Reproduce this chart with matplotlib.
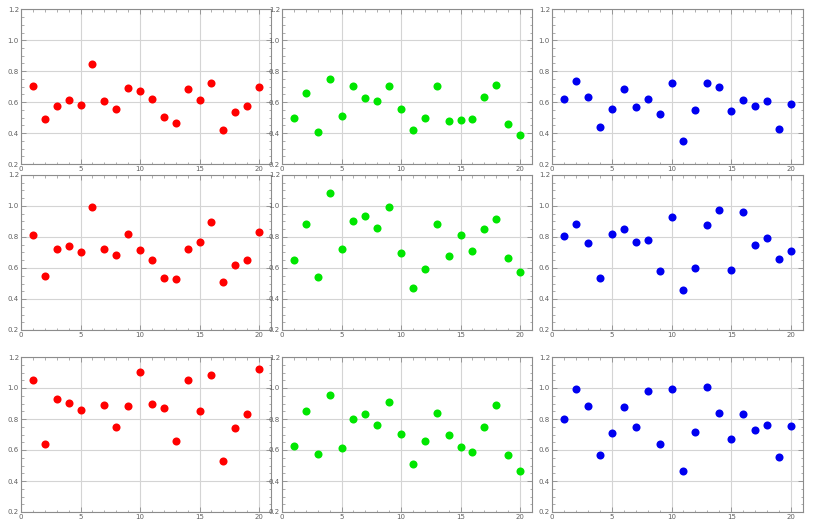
"""
3x3 grid of scatter panels, red / green / blue columns.
"""

import matplotlib.pyplot as plt
from matplotlib.ticker import MultipleLocator, FormatStrFormatter

x = list(range(1, 21))

# rows top to bottom, columns red, green, blue
red_1 = [0.702, 0.491, 0.577, 0.614, 0.581, 0.844, 0.610, 0.553, 0.691, 0.674,
         0.620, 0.506, 0.463, 0.683, 0.616, 0.726, 0.422, 0.536, 0.573, 0.696]
green_1 = [0.497, 0.659, 0.407, 0.750, 0.512, 0.706, 0.625, 0.605, 0.702, 0.553,
           0.422, 0.497, 0.702, 0.480, 0.482, 0.493, 0.635, 0.711, 0.459, 0.390]
blue_1 = [0.620, 0.734, 0.631, 0.439, 0.553, 0.687, 0.569, 0.620, 0.521, 0.722,
          0.351, 0.549, 0.722, 0.696, 0.541, 0.616, 0.573, 0.607, 0.426, 0.588]

red_2 = [0.811, 0.551, 0.725, 0.744, 0.705, 0.991, 0.725, 0.686, 0.819, 0.716,
         0.654, 0.535, 0.531, 0.725, 0.768, 0.897, 0.508, 0.619, 0.654, 0.834]
green_2 = [0.654, 0.886, 0.540, 1.082, 0.725, 0.905, 0.933, 0.858, 0.991, 0.697,
           0.469, 0.594, 0.882, 0.677, 0.811, 0.710, 0.854, 0.914, 0.662, 0.574]
blue_2 = [0.806, 0.882, 0.763, 0.535, 0.819, 0.854, 0.768, 0.778, 0.578, 0.929,
          0.456, 0.598, 0.877, 0.972, 0.587, 0.959, 0.748, 0.796, 0.660, 0.712]

# point 6 of red_3 lies above the plot range and is clipped
red_3 = [1.054, 0.637, 0.931, 0.901, 0.858, 1.250, 0.888, 0.751, 0.884, 1.101,
         0.897, 0.869, 0.660, 1.049, 0.849, 1.082, 0.527, 0.740, 0.834, 1.120]
green_3 = [0.626, 0.854, 0.576, 0.953, 0.611, 0.798, 0.834, 0.763, 0.912, 0.703,
           0.508, 0.656, 0.841, 0.695, 0.622, 0.589, 0.751, 0.892, 0.566, 0.462]
blue_3 = [0.798, 0.992, 0.882, 0.566, 0.708, 0.877, 0.746, 0.978, 0.637, 0.992,
          0.462, 0.716, 1.006, 0.841, 0.669, 0.834, 0.727, 0.759, 0.555, 0.757]

rows = [[red_1, green_1, blue_1],
        [red_2, green_2, blue_2],
        [red_3, green_3, blue_3]]
colors = ["#ff0000", "#00e600", "#0000f0"]

W, H = 816, 529
col_px = [(21, 271), (282, 532), (552, 803)]
row_px = [(9.3, 164), (175, 330), (357, 512)]

fig = plt.figure(figsize=(W / 100, H / 100), dpi=100)

for r, (top, bot) in enumerate(row_px):
    for c, (left, right) in enumerate(col_px):
        ax = fig.add_axes([left / W, 1 - bot / H, (right - left) / W, (bot - top) / H])
        ax.plot(x, rows[r][c], "o", color=colors[c], ms=5.8, mew=0, zorder=3)
        ax.set_xlim(0, 21)
        ax.set_ylim(0.2, 1.2)
        ax.xaxis.set_major_locator(MultipleLocator(5))
        ax.xaxis.set_minor_locator(MultipleLocator(1))
        ax.yaxis.set_major_locator(MultipleLocator(0.2))
        ax.yaxis.set_minor_locator(MultipleLocator(0.05))
        ax.yaxis.set_major_formatter(FormatStrFormatter("%.1f"))
        ax.grid(True, which="major", color="#d4d4d4", lw=0.8)
        ax.set_axisbelow(True)
        ax.tick_params(which="both", direction="in", top=True, right=True,
                       colors="#8c8c8c", labelcolor="#606060", labelsize=5.0, pad=1.5)
        ax.tick_params(which="major", length=3.5, width=0.6)
        ax.tick_params(which="minor", length=1.8, width=0.5)
        for s in ax.spines.values():
            s.set_color("#8c8c8c")
            s.set_linewidth(0.8)

fig.savefig("out.png", dpi=100)
